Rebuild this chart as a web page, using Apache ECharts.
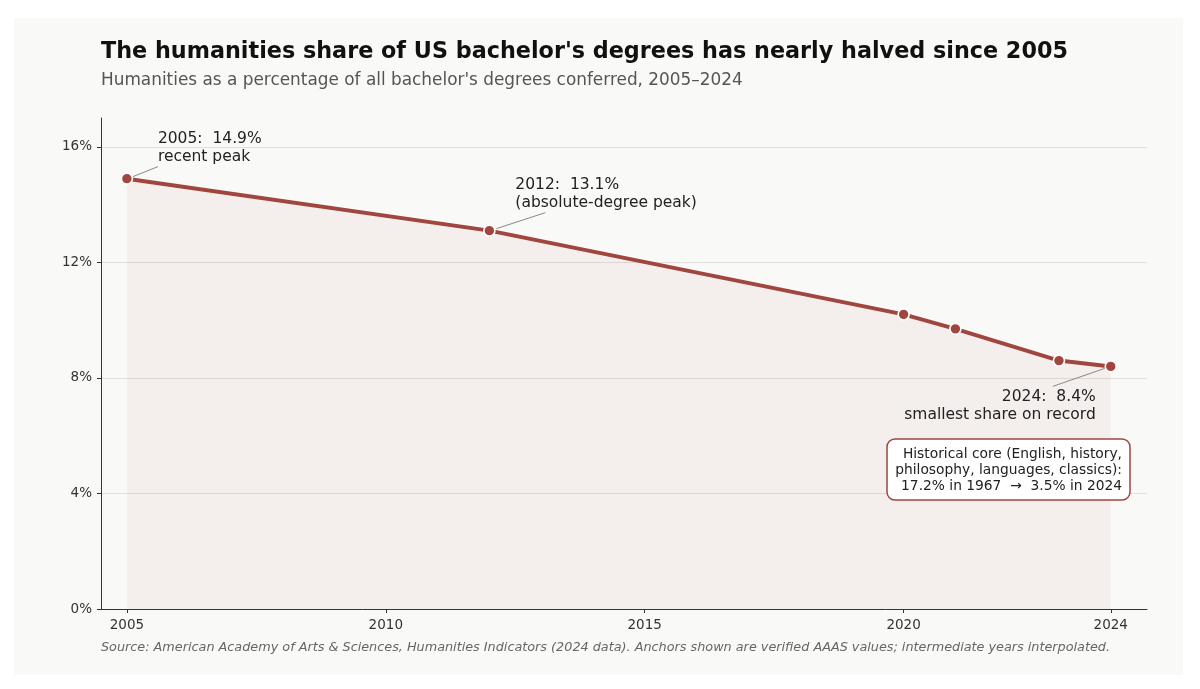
<!DOCTYPE html>
<html>
<head>
<meta charset="utf-8">
<script src="https://cdn.jsdelivr.net/npm/echarts@6/dist/echarts.min.js"></script>
<style>
html,body{margin:0;padding:0;background:#ffffff;}
#chart{width:1200px;height:689px;}
</style>
</head>
<body>
<div id="chart"></div>
<script>
// Data (anchor years shown in the source chart)
const years = [2005, 2012, 2020, 2021, 2023, 2024];
const shares = [14.9, 13.1, 10.2, 9.7, 8.6, 8.4];
const xTickValues = [2005, 2010, 2015, 2020, 2024];
const yTickValues = [0, 4, 8, 12, 16];
const titleText = "The humanities share of US bachelor's degrees has nearly halved since 2005";
const subtitleText = "Humanities as a percentage of all bachelor's degrees conferred, 2005\u20132024";
const sourceText = "Source: American Academy of Arts & Sciences, Humanities Indicators (2024 data). Anchors shown are verified AAAS values; intermediate years interpolated.";
const annotations = [
  { idx: 0, text: "2005:  14.9%\nrecent peak" },
  { idx: 1, text: "2012:  13.1%\n(absolute-degree peak)" },
  { idx: 5, text: "2024:  8.4%\nsmallest share on record" }
];
const boxText = "Historical core (English, history,\nphilosophy, languages, classics):\n17.2% in 1967  \u2192  3.5% in 2024";

const LINE = '#a0463f';
const FONT = 'DejaVu Sans';

const chart = echarts.init(document.getElementById('chart'), null, {renderer: 'canvas'});
const seriesData = years.map((y, i) => [y, shares[i]]);

const option = {
  backgroundColor: '#ffffff',
  animation: false,
  textStyle: { fontFamily: FONT },
  title: {
    left: 96, top: 36,
    text: titleText,
    subtext: subtitleText,
    itemGap: 9,
    textStyle: { fontFamily: FONT, fontSize: 22.3, fontWeight: 'bold', color: '#111111' },
    subtextStyle: { fontFamily: FONT, fontSize: 16.9, color: '#555555' }
  },
  grid: { left: 101, right: 53, top: 118, bottom: 80, containLabel: false },
  xAxis: {
    type: 'value', min: 2004.5, max: 2024.7,
    axisLine: { show: true, onZero: false, lineStyle: { color: '#333333', width: 1 } },
    axisTick: { show: true, customValues: xTickValues, length: 4, lineStyle: { color: '#333333' } },
    axisLabel: { customValues: xTickValues, color: '#333333', fontSize: 13.5, fontFamily: FONT, margin: 9,
      formatter: v => String(v) },
    splitLine: { show: false }
  },
  yAxis: {
    type: 'value', min: 0, max: 17,
    axisLine: { show: true, lineStyle: { color: '#333333', width: 1 } },
    axisTick: { show: true, customValues: yTickValues, length: 4, lineStyle: { color: '#333333' } },
    axisLabel: { customValues: yTickValues, color: '#333333', fontSize: 13.5, fontFamily: FONT, margin: 9,
      formatter: v => v + '%' },
    splitLine: { show: true, lineStyle: { color: '#e2dfdc', width: 1 } }
  },
  series: [{
    type: 'line',
    data: seriesData,
    symbol: 'circle',
    symbolSize: 11,
    lineStyle: { color: LINE, width: 4 },
    itemStyle: { color: LINE, borderColor: '#ffffff', borderWidth: 1.6 },
    areaStyle: { color: 'rgba(160,70,63,0.08)' },
    z: 3
  }]
};
chart.setOption(option);

function buildGraphics() {
  const g = [];
  // panel background
  g.push({ type: 'rect', z: -10, silent: true,
    shape: { x: 14, y: 18, width: 1169, height: 657 },
    style: { fill: '#f9f9f8' } });
  // source text
  g.push({ type: 'text', z: 10, style: { x: 101, y: 648, text: sourceText,
    font: 'italic 12.8px "DejaVu Sans"', fill: '#666666', textVerticalAlign: 'middle' } });

  const cfg = [
    { dx: 31, dy: -49, align: 'left', l1: [6, -2], l2: [31, -12] },
    { dx: 26, dy: -55, align: 'left', l1: [7, -2], l2: [56, -18] },
    { dx: -15, dy: 22, align: 'right', l1: [-6, 2], l2: [-58, 20] }
  ];
  annotations.forEach((a, k) => {
    const p = chart.convertToPixel({ gridIndex: 0 }, [years[a.idx], shares[a.idx]]);
    const c = cfg[k];
    g.push({ type: 'line', z: 10, silent: true,
      shape: { x1: p[0] + c.l1[0], y1: p[1] + c.l1[1], x2: p[0] + c.l2[0], y2: p[1] + c.l2[1] },
      style: { stroke: '#888888', lineWidth: 1 } });
    g.push({ type: 'text', z: 10, style: { x: p[0] + c.dx, y: p[1] + c.dy, text: a.text,
      font: '15.5px "DejaVu Sans"', fill: '#222222', textAlign: c.align, textVerticalAlign: 'top', lineHeight: 18 } });
  });
  // box annotation, placed relative to grid corner
  const br = chart.convertToPixel({ gridIndex: 0 }, [2024.7, 0]);
  const bx = br[0] - 260, by = br[1] - 170;
  g.push({ type: 'rect', z: 10, silent: true,
    shape: { x: bx, y: by, width: 243, height: 61, r: 8 },
    style: { fill: '#ffffff', stroke: LINE, lineWidth: 1.5 } });
  g.push({ type: 'text', z: 11, style: { x: bx + 235, y: by + 7, text: boxText,
    font: '13.8px "DejaVu Sans"', fill: '#222222', textAlign: 'right', textVerticalAlign: 'top', lineHeight: 16 } });
  chart.setOption({ graphic: g });
}
buildGraphics();
</script>
</body>
</html>
